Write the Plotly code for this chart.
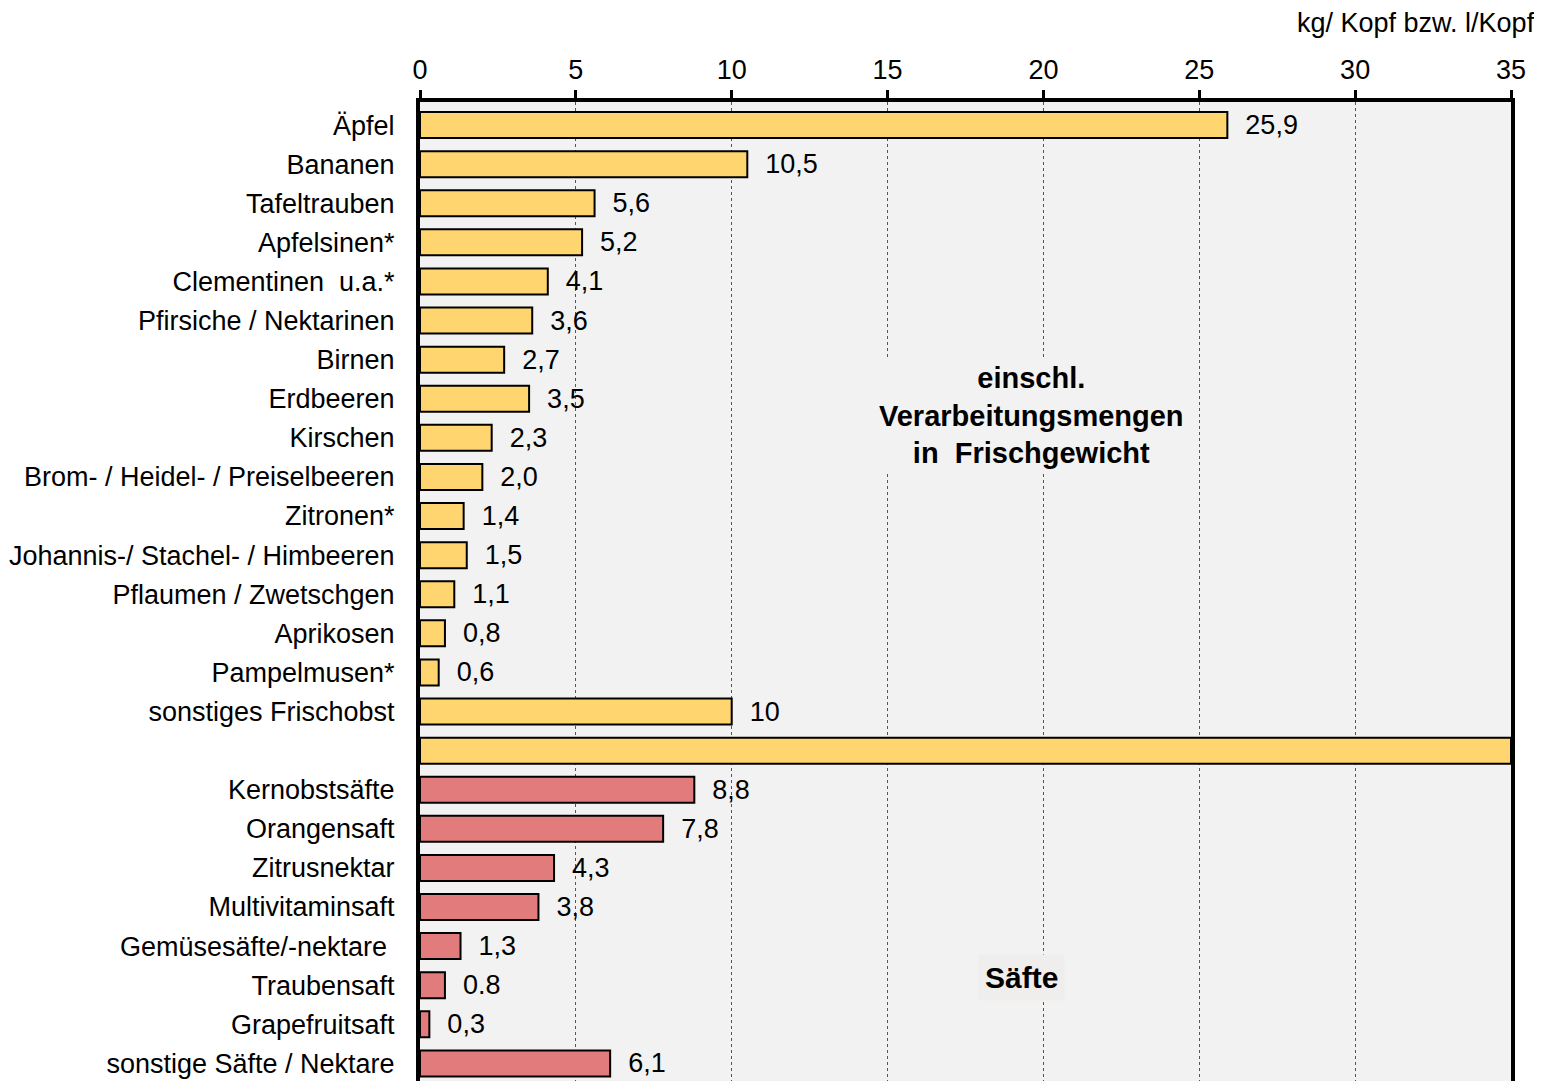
import plotly.graph_objects as go

categories = ["Äpfel", "Bananen", "Tafeltrauben", "Apfelsinen*", "Clementinen  u.a.*",
              "Pfirsiche / Nektarinen", "Birnen", "Erdbeeren", "Kirschen",
              "Brom- / Heidel- / Preiselbeeren", "Zitronen*", "Johannis-/ Stachel- / Himbeeren",
              "Pflaumen / Zwetschgen", "Aprikosen", "Pampelmusen*", "sonstiges Frischobst",
              " ",
              "Kernobstsäfte", "Orangensaft", "Zitrusnektar", "Multivitaminsaft",
              "Gemüsesäfte/-nektare ", "Traubensaft", "Grapefruitsaft", "sonstige Säfte / Nektare"]
values = [25.9, 10.5, 5.6, 5.2, 4.1, 3.6, 2.7, 3.5, 2.3, 2.0, 1.4, 1.5, 1.1, 0.8, 0.6, 10,
          35,
          8.8, 7.8, 4.3, 3.8, 1.3, 0.8, 0.3, 6.1]
value_labels = ["25,9", "10,5", "5,6", "5,2", "4,1", "3,6", "2,7", "3,5", "2,3", "2,0", "1,4",
                "1,5", "1,1", "0,8", "0,6", "10",
                "",
                "8,8", "7,8", "4,3", "3,8", "1,3", "0.8", "0,3", "6,1"]
groups = ["obst"] * 16 + ["obst"] + ["saft"] * 8
tick_vals = [0, 5, 10, 15, 20, 25, 30, 35]

YELLOW = "#FFD56F"
RED = "#E27B7B"
colors = [YELLOW if g == "obst" else RED for g in groups]

FONT = "Liberation Sans, Arial, sans-serif"

fig = go.Figure()
fig.add_trace(go.Bar(
    y=categories, x=values, orientation="h",
    marker=dict(color=colors, line=dict(color="black", width=2)),
    text=value_labels, texttemplate="\u00a0\u00a0%{text}",
    textposition="outside", cliponaxis=False, constraintext="none",
    textfont=dict(family=FONT, size=27, color="black"),
    hoverinfo="skip",
))

# page body has an 8px default margin, so the figure is sized to fit the 1542x1081 window
W, H = 1534, 1073
ML, MR, MT, MB = 412, 31, 94, 0
PW = W - ML - MR
PH = H - MT - MB

fig.update_layout(
    width=W, height=H,
    margin=dict(l=ML, r=MR, t=MT, b=MB),
    paper_bgcolor="white", plot_bgcolor="#F2F2F2",
    bargap=0.335, showlegend=False,
    font=dict(family=FONT, size=27, color="black"),
    xaxis=dict(
        side="top", range=[0, 35], tickvals=tick_vals,
        showgrid=True, gridcolor="#555555", gridwidth=1, griddash="dot",
        showline=True, linecolor="black", linewidth=4,
        ticks="outside", ticklen=8, tickwidth=3, tickcolor="black",
        tickfont=dict(family=FONT, size=27), zeroline=False,
    ),
    yaxis=dict(
        type="category", range=[24.45, -0.59],
        showline=True, linecolor="black", linewidth=4, mirror=True,
        showgrid=False, ticks="", ticklabelstandoff=16,
        tickfont=dict(family=FONT, size=27),
    ),
    annotations=[
        dict(x=1 + (MR - 5) / PW, xref="paper", y=1 + (MT - 15) / PH, yref="paper",
             text="kg/ Kopf bzw. l/Kopf",
             showarrow=False, font=dict(family=FONT, size=27), xanchor="right", yanchor="middle"),
        dict(x=19.63, y=7.44, xref="x", yref="y",
             text="<b>einschl.<br>Verarbeitungsmengen<br>in  Frischgewicht</b>",
             showarrow=False, font=dict(family=FONT, size=29), bgcolor="#F2F2F2",
             align="center", borderpad=4),
        dict(x=19.3, y=21.8, xref="x", yref="y", text="<b>Säfte</b>",
             showarrow=False, font=dict(family=FONT, size=30), bgcolor="#F0EDED",
             borderpad=6),
    ],
)

fig.write_html("out.html")
